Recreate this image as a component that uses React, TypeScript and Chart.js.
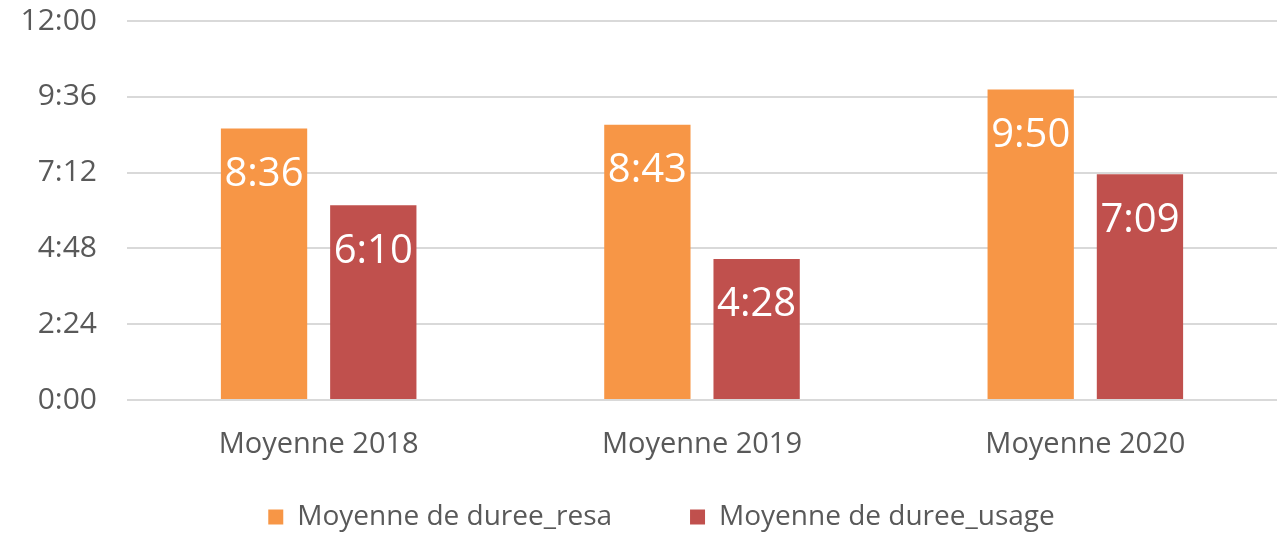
import React, { useEffect, useRef } from "react";
import { Chart, registerables } from "chart.js";

Chart.register(...registerables);

const categories = ["Moyenne 2018", "Moyenne 2019", "Moyenne 2020"];
const seriesNames = ["Moyenne de duree_resa", "Moyenne de duree_usage"];
// values in minutes
const resaMinutes = [516, 523, 590]; // 8:36, 8:43, 9:50
const usageMinutes = [370, 268, 429]; // 6:10, 4:28, 7:09
const yMax = 720;
const yStep = 144;

const FONT = "'Open Sans'";
const GRAY = "#595959";

function fmt(m: number): string {
  const h = Math.floor(m / 60);
  const mm = Math.round(m - h * 60);
  return h + ":" + (mm < 10 ? "0" : "") + mm;
}

const LEGEND_PAD = 78;
const LEGEND_FONT = 28;

const labelPlugin = {
  id: "barLabels",
  afterDatasetsDraw(chart: any) {
    const ctx = chart.ctx;
    ctx.save();
    ctx.font = `40px ${FONT}`;
    ctx.fillStyle = "#ffffff";
    ctx.textAlign = "center";
    ctx.textBaseline = "middle";
    chart.data.datasets.forEach((ds: any, di: number) => {
      const meta = chart.getDatasetMeta(di);
      meta.data.forEach((bar: any, i: number) => {
        ctx.fillText(fmt(ds.data[i]), bar.x, bar.y + 46);
      });
    });
    ctx.restore();
  },
};

const legendShift = {
  id: "legendShift",
  afterLayout(chart: any) {
    const lg = chart.legend;
    if (!lg) return;
    lg.top = 517 - LEGEND_FONT / 2 - LEGEND_PAD;
    lg.bottom = chart.height;
    lg.height = lg.bottom - lg.top;
    lg.left += 23;
    lg.right += 23;
  },
};

export default function App() {
  const ref = useRef<HTMLCanvasElement>(null);
  useEffect(() => {
    if (!ref.current) return;
    const chart = new Chart(ref.current, {
      type: "bar",
      data: {
        labels: categories,
        datasets: [
          {
            label: seriesNames[0],
            data: resaMinutes,
            backgroundColor: "#F79646",
            categoryPercentage: 0.57,
            barPercentage: 0.79,
          },
          {
            label: seriesNames[1],
            data: usageMinutes,
            backgroundColor: "#C0504D",
            categoryPercentage: 0.57,
            barPercentage: 0.79,
          },
        ],
      },
      options: {
        responsive: false,
        animation: false,
        layout: { padding: { left: 0, right: 2, top: 21, bottom: 0 } },
        plugins: {
          tooltip: { enabled: false },
          legend: {
            position: "bottom",
            maxHeight: 63,
            labels: {
              font: { family: FONT, size: LEGEND_FONT },
              color: GRAY,
              boxWidth: 15,
              boxHeight: 15,
              padding: LEGEND_PAD,
            },
          },
        },
        scales: {
          x: {
            grid: { display: false },
            border: { display: false },
            ticks: { font: { family: FONT, size: 29 }, color: GRAY, padding: 19 },
            afterFit: (s: any) => {
              s.height = 70;
            },
          },
          y: {
            min: 0,
            max: yMax,
            border: { display: false },
            grid: { color: "#d9d9d9", lineWidth: 2, drawTicks: false },
            ticks: {
              stepSize: yStep,
              padding: 30,
              font: { family: FONT, size: 30 },
              color: GRAY,
              callback: (v: any) => fmt(Number(v)),
            },
            afterFit: (s: any) => {
              s.width = 127;
              s.paddingTop = 0;
              s.paddingBottom = 0;
            },
          },
        },
      },
      plugins: [labelPlugin, legendShift],
    });
    return () => chart.destroy();
  }, []);
  return (
    <div style={{ position: "absolute", left: 0, top: 0, width: 1279, height: 533, background: "#fff" }}>
      <canvas ref={ref} width={1279} height={533} style={{ display: "block" }} />
    </div>
  );
}
